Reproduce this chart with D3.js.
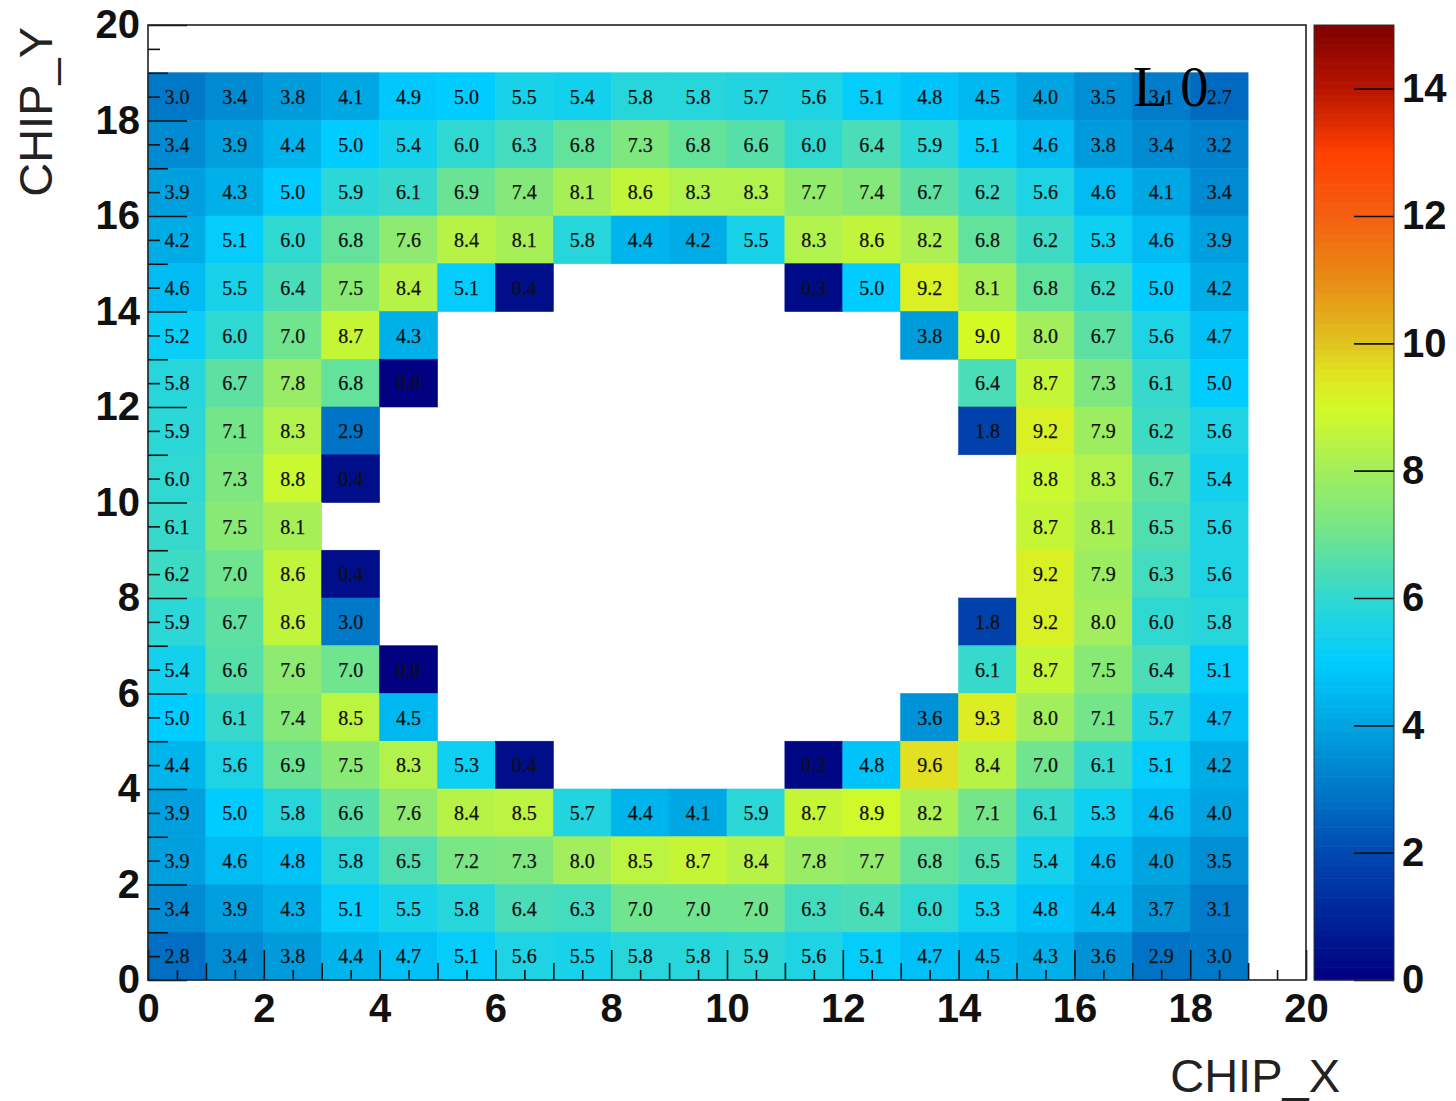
<!DOCTYPE html>
<html>
<head>
<meta charset="utf-8">
<script src="https://cdn.jsdelivr.net/npm/d3@7"></script>
<style>
  html, body { margin: 0; padding: 0; background: #fff; }
  svg { display: block; }
</style>
</head>
<body>
<svg id="chart" width="1456" height="1101"></svg>
<script>
// Chip grid indices
const chipX = [0, 1, 2, 3, 4, 5, 6, 7, 8, 9, 10, 11, 12, 13, 14, 15, 16, 17, 18];
const chipY = [18, 17, 16, 15, 14, 13, 12, 11, 10, 9, 8, 7, 6, 5, 4, 3, 2, 1, 0];

// Per-chip values, one row per CHIP_Y (top row first); null = no entry
const occupancy = [
  [3.0, 3.4, 3.8, 4.1, 4.9, 5.0, 5.5, 5.4, 5.8, 5.8, 5.7, 5.6, 5.1, 4.8, 4.5, 4.0, 3.5, 3.1, 2.7],
  [3.4, 3.9, 4.4, 5.0, 5.4, 6.0, 6.3, 6.8, 7.3, 6.8, 6.6, 6.0, 6.4, 5.9, 5.1, 4.6, 3.8, 3.4, 3.2],
  [3.9, 4.3, 5.0, 5.9, 6.1, 6.9, 7.4, 8.1, 8.6, 8.3, 8.3, 7.7, 7.4, 6.7, 6.2, 5.6, 4.6, 4.1, 3.4],
  [4.2, 5.1, 6.0, 6.8, 7.6, 8.4, 8.1, 5.8, 4.4, 4.2, 5.5, 8.3, 8.6, 8.2, 6.8, 6.2, 5.3, 4.6, 3.9],
  [4.6, 5.5, 6.4, 7.5, 8.4, 5.1, 0.4, null, null, null, null, 0.3, 5.0, 9.2, 8.1, 6.8, 6.2, 5.0, 4.2],
  [5.2, 6.0, 7.0, 8.7, 4.3, null, null, null, null, null, null, null, null, 3.8, 9.0, 8.0, 6.7, 5.6, 4.7],
  [5.8, 6.7, 7.8, 6.8, 0.0, null, null, null, null, null, null, null, null, null, 6.4, 8.7, 7.3, 6.1, 5.0],
  [5.9, 7.1, 8.3, 2.9, null, null, null, null, null, null, null, null, null, null, 1.8, 9.2, 7.9, 6.2, 5.6],
  [6.0, 7.3, 8.8, 0.4, null, null, null, null, null, null, null, null, null, null, null, 8.8, 8.3, 6.7, 5.4],
  [6.1, 7.5, 8.1, null, null, null, null, null, null, null, null, null, null, null, null, 8.7, 8.1, 6.5, 5.6],
  [6.2, 7.0, 8.6, 0.4, null, null, null, null, null, null, null, null, null, null, null, 9.2, 7.9, 6.3, 5.6],
  [5.9, 6.7, 8.6, 3.0, null, null, null, null, null, null, null, null, null, null, 1.8, 9.2, 8.0, 6.0, 5.8],
  [5.4, 6.6, 7.6, 7.0, 0.0, null, null, null, null, null, null, null, null, null, 6.1, 8.7, 7.5, 6.4, 5.1],
  [5.0, 6.1, 7.4, 8.5, 4.5, null, null, null, null, null, null, null, null, 3.6, 9.3, 8.0, 7.1, 5.7, 4.7],
  [4.4, 5.6, 6.9, 7.5, 8.3, 5.3, 0.4, null, null, null, null, 0.2, 4.8, 9.6, 8.4, 7.0, 6.1, 5.1, 4.2],
  [3.9, 5.0, 5.8, 6.6, 7.6, 8.4, 8.5, 5.7, 4.4, 4.1, 5.9, 8.7, 8.9, 8.2, 7.1, 6.1, 5.3, 4.6, 4.0],
  [3.9, 4.6, 4.8, 5.8, 6.5, 7.2, 7.3, 8.0, 8.5, 8.7, 8.4, 7.8, 7.7, 6.8, 6.5, 5.4, 4.6, 4.0, 3.5],
  [3.4, 3.9, 4.3, 5.1, 5.5, 5.8, 6.4, 6.3, 7.0, 7.0, 7.0, 6.3, 6.4, 6.0, 5.3, 4.8, 4.4, 3.7, 3.1],
  [2.8, 3.4, 3.8, 4.4, 4.7, 5.1, 5.6, 5.5, 5.8, 5.8, 5.9, 5.6, 5.1, 4.7, 4.5, 4.3, 3.6, 2.9, 3.0]
];

// Axis ticks and labels
const axisLabelTicks = [0, 2, 4, 6, 8, 10, 12, 14, 16, 18, 20];
const axisOddTicks = [1, 3, 5, 7, 9, 11, 13, 15, 17, 19];
const axisHalfTicks = d3.range(0.5, 20, 1);
const colorTicks = [0, 2, 4, 6, 8, 10, 12, 14];

// Palette stops (value -> colour)
const paletteStops = [0, 2, 3, 4, 5, 6, 7, 8, 9, 9.6, 10, 11, 12, 13, 14, 15];
const paletteColors = ["#000080", "#0048b0", "#0078c8", "#00a4e0", "#00ccff", "#30d8d2", "#70e48e",
  "#a2ee5c", "#d4fa26", "#e2e020", "#e0c420", "#e88c14", "#f66010", "#ff4000", "#b81400", "#800000"];

const svg = d3.select("#chart");
const frame = { left: 148, right: 1306, top: 25, bottom: 980 };

const x = d3.scaleLinear().domain([0, 20]).range([frame.left, frame.right]);
const y = d3.scaleLinear().domain([0, 20]).range([frame.bottom, frame.top]);
const color = d3.scaleLinear().domain(paletteStops).range(paletteColors).clamp(true);

// Flatten the grid into cells
const cells = [];
occupancy.forEach((row, ri) => {
  row.forEach((v, ci) => {
    if (v !== null) cells.push({ cx: chipX[ci], cy: chipY[ri], v });
  });
});

const plot = svg.append("g");

plot.selectAll("rect.cell")
  .data(cells)
  .join("rect")
  .attr("class", "cell")
  .attr("x", d => x(d.cx))
  .attr("y", d => y(d.cy + 1))
  .attr("width", d => x(d.cx + 1) - x(d.cx))
  .attr("height", d => y(d.cy) - y(d.cy + 1))
  .attr("fill", d => color(d.v))
  .attr("stroke", d => color(d.v))
  .attr("stroke-width", 0.6);

plot.selectAll("text.val")
  .data(cells)
  .join("text")
  .attr("class", "val")
  .attr("x", d => (x(d.cx) + x(d.cx + 1)) / 2)
  .attr("y", d => (y(d.cy) + y(d.cy + 1)) / 2)
  .attr("dy", "0.36em")
  .attr("text-anchor", "middle")
  .attr("font-family", "'Liberation Serif', 'DejaVu Serif', serif")
  .attr("font-size", 20)
  .attr("fill", "#101010")
  .attr("stroke", "#101010")
  .attr("stroke-width", 0.25)
  .text(d => d3.format(".1f")(d.v));

// Axes (ticks point inwards)
const tickFont = "'Liberation Sans', Arial, sans-serif";

function styleAxis(g) {
  g.select(".domain").remove();
  g.selectAll(".tick line").attr("stroke", "#111").attr("stroke-width", 1.6);
  g.selectAll(".tick text")
    .attr("font-family", tickFont)
    .attr("font-weight", "bold")
    .attr("font-size", 40)
    .attr("fill", "#111");
}

// x axis: labelled, odd and half ticks
svg.append("g").attr("transform", `translate(0,${frame.bottom})`)
  .call(d3.axisBottom(x).tickValues(axisLabelTicks).tickSize(-30).tickPadding(14).tickFormat(d3.format("d")))
  .call(styleAxis);
svg.append("g").attr("transform", `translate(0,${frame.bottom})`)
  .call(d3.axisBottom(x).tickValues(axisOddTicks).tickSize(-17).tickFormat(""))
  .call(styleAxis);
svg.append("g").attr("transform", `translate(0,${frame.bottom})`)
  .call(d3.axisBottom(x).tickValues(axisHalfTicks).tickSize(-10).tickFormat(""))
  .call(styleAxis);

// y axis
svg.append("g").attr("transform", `translate(${frame.left},0)`)
  .call(d3.axisLeft(y).tickValues(axisLabelTicks).tickSize(-39).tickPadding(8).tickFormat(d3.format("d")))
  .call(styleAxis);
svg.append("g").attr("transform", `translate(${frame.left},0)`)
  .call(d3.axisLeft(y).tickValues(axisOddTicks).tickSize(-20).tickFormat(""))
  .call(styleAxis);
svg.append("g").attr("transform", `translate(${frame.left},0)`)
  .call(d3.axisLeft(y).tickValues(axisHalfTicks).tickSize(-12).tickFormat(""))
  .call(styleAxis);

// Plot frame
svg.append("rect")
  .attr("x", frame.left).attr("y", frame.top)
  .attr("width", frame.right - frame.left).attr("height", frame.bottom - frame.top)
  .attr("fill", "none").attr("stroke", "#222").attr("stroke-width", 1.6);

// Axis titles
svg.append("text")
  .attr("x", 1340).attr("y", 1092)
  .attr("text-anchor", "end")
  .attr("font-family", tickFont)
  .attr("font-size", 47)
  .attr("fill", "#222")
  .text("CHIP_X");

svg.append("text")
  .attr("transform", "translate(52,27) rotate(-90)")
  .attr("text-anchor", "end")
  .attr("font-family", tickFont)
  .attr("font-size", 47)
  .attr("fill", "#222")
  .text("CHIP_Y");

// Layer label
svg.append("text")
  .attr("x", 1133).attr("y", 106)
  .attr("font-family", "'Liberation Serif', 'DejaVu Serif', serif")
  .attr("font-size", 57)
  .attr("fill", "#000")
  .text("L 0");

// Colour bar
const bar = { left: 1314, right: 1394 };
const zScale = d3.scaleLinear().domain([0, 15]).range([frame.bottom, frame.top]);
const bands = d3.range(0, 15, 0.1);
svg.append("g").selectAll("rect")
  .data(bands)
  .join("rect")
  .attr("x", bar.left)
  .attr("y", d => zScale(d + 0.1))
  .attr("width", bar.right - bar.left)
  .attr("height", d => zScale(d) - zScale(d + 0.1) + 0.6)
  .attr("fill", d => color(d + 0.05));

svg.append("g").attr("transform", `translate(${bar.right},0)`)
  .call(d3.axisRight(zScale).tickValues(colorTicks).tickSize(-40).tickPadding(8).tickFormat(d3.format("d")))
  .call(styleAxis);

svg.append("rect")
  .attr("x", bar.left).attr("y", frame.top)
  .attr("width", bar.right - bar.left).attr("height", frame.bottom - frame.top)
  .attr("fill", "none").attr("stroke", "#333").attr("stroke-width", 1);
</script>
</body>
</html>
